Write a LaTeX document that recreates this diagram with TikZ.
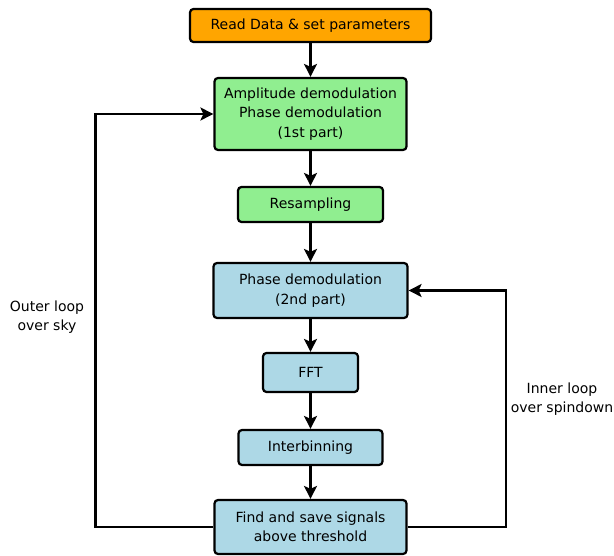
\documentclass[tikz,border=0pt]{standalone}
\usepackage{fontspec}
\setmainfont{DejaVu Sans}
\usetikzlibrary{arrows.meta}

\definecolor{readcol}{RGB}{255,165,0}
\definecolor{demodcol}{RGB}{144,238,144}
\definecolor{loopcol}{RGB}{173,216,230}

\begin{document}
\begin{tikzpicture}[x=1pt,y=-1pt,>={Stealth[length=13pt,width=13pt,inset=3pt]},line width=2.2pt,
    stepbox/.style={rectangle, rounded corners=3.5pt, draw, align=center, inner sep=0pt, font=\fontsize{14}{19.5}\selectfont},
    lbl/.style={align=center, font=\fontsize{14}{19.5}\selectfont}]
                        \useasboundingbox (0,0) rectangle (614,556);

                        \node [stepbox, fill=readcol, minimum width=241pt, minimum height=33pt](1) at (310.5,25.5){Read Data \& set parameters};
                        \node [stepbox, fill=demodcol, minimum width=192pt, minimum height=72pt, node distance=88.5pt](2) [below of = 1]{Amplitude demodulation\\Phase demodulation\\(1st part)};
                        \node [stepbox, fill=demodcol, minimum width=145pt, minimum height=35pt, node distance=90.5pt](3) [below of = 2]{Resampling};
                        \node [stepbox, fill=loopcol, minimum width=194pt, minimum height=55pt, node distance=86pt](4) [below of = 3]{Phase demodulation\\(2nd part)};
                        \node [stepbox, fill=loopcol, minimum width=95pt, minimum height=39pt, node distance=82pt](5) [below of = 4]{FFT};
                        \node [stepbox, fill=loopcol, minimum width=144pt, minimum height=35pt, node distance=75pt](6) [below of = 5]{Interbinning};
                        \node [stepbox, fill=loopcol, minimum width=192pt, minimum height=54pt, node distance=79.5pt](7) [below of = 6]{Find and save signals\\above threshold};

                        \node [lbl](8) at (47,317){Outer loop\\over sky};
                        \node [lbl](9) at (562,399){Inner loop\\over spindown};

                        \draw[->] (1) -- (2);
                        \draw[->] (2) -- (3);
                        \draw[->] (3) -- (4);
                        \draw[->] (4) -- (5);
                        \draw[->] (5) -- (6);
                        \draw[->] (6) -- (7);
                        \draw[->] (7.west) -- ++(-118,0) |- (2.west);
                        \draw[->] (7.east) -- ++(98,0) |- (4.east);
                    \end{tikzpicture}
\end{document}
